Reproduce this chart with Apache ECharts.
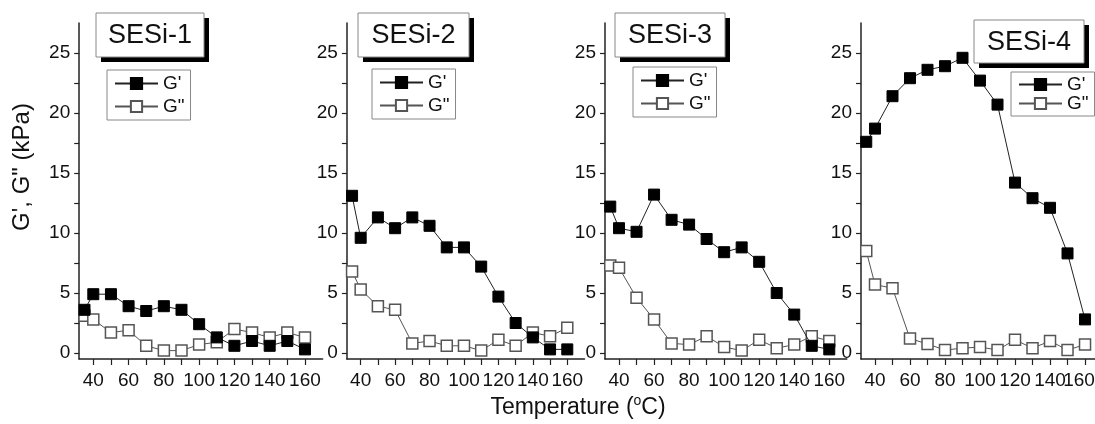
<!DOCTYPE html>
<html>
<head>
<meta charset="utf-8">
<script src="https://cdn.jsdelivr.net/npm/echarts@6/dist/echarts.min.js"></script>
<style>
html,body{margin:0;padding:0;background:#fff;}
#c{width:1095px;height:424px;}
</style>
</head>
<body>
<div id="c"></div>
<script>
// ---- data ----
const temps = [35, 40, 50, 60, 70, 80, 90, 100, 110, 120, 130, 140, 150, 160];
const panelNames = ['SESi-1', 'SESi-2', 'SESi-3', 'SESi-4'];
const seriesNames = ["G'", 'G"'];
const s1G1 = [3.6, 4.9, 4.9, 3.9, 3.5, 3.9, 3.6, 2.4, 1.3, 0.6, 1.0, 0.6, 1.0, 0.3];
const s1G2 = [3.1, 2.8, 1.7, 1.9, 0.6, 0.2, 0.2, 0.7, 0.9, 2.0, 1.7, 1.3, 1.7, 1.3];
const s2G1 = [13.1, 9.6, 11.3, 10.4, 11.3, 10.6, 8.8, 8.8, 7.2, 4.7, 2.5, 1.3, 0.3, 0.3];
const s2G2 = [6.8, 5.3, 3.9, 3.6, 0.8, 1.0, 0.6, 0.6, 0.2, 1.1, 0.6, 1.7, 1.4, 2.1];
const s3G1 = [12.2, 10.4, 10.1, 13.2, 11.1, 10.7, 9.5, 8.4, 8.8, 7.6, 5.0, 3.2, 0.6, 0.3];
const s3G2 = [7.3, 7.1, 4.6, 2.8, 0.8, 0.7, 1.4, 0.5, 0.2, 1.1, 0.4, 0.7, 1.4, 1.0];
const s4G1 = [17.6, 18.7, 21.4, 22.9, 23.6, 23.9, 24.6, 22.7, 20.7, 14.2, 12.9, 12.1, 8.3, 2.8];
const s4G2 = [8.5, 5.7, 5.4, 1.2, 0.75, 0.25, 0.4, 0.5, 0.25, 1.1, 0.4, 1.0, 0.25, 0.7];
const xTickValues = [40, 50, 60, 70, 80, 90, 100, 110, 120, 130, 140, 150, 160];
const xLabelValues = [40, 60, 80, 100, 120, 140, 160];
const yTickValues = [0, 2.5, 5, 7.5, 10, 12.5, 15, 17.5, 20, 22.5, 25];
const yLabelValues = [0, 5, 10, 15, 20, 25];
const xTitle = 'Temperature';
const yTitle = 'G\', G" (kPa)';

const panelData = [[s1G1, s1G2], [s2G1, s2G2], [s3G1, s3G2], [s4G1, s4G2]];

// ---- layout ----
const FONT = '"Liberation Sans", Arial, sans-serif';
const gridBoxes = [
  {left: 79.2, width: 243.4, xmax: 170},
  {left: 346.9, width: 237.6, xmax: 170},
  {left: 605, width: 241.8, xmax: 170},
  {left: 861, width: 234, xmax: 165.7}
];
const titleBoxes = [
  {x: 96, y: 13, w: 108, h: 44},
  {x: 358, y: 13, w: 111, h: 44},
  {x: 615, y: 13, w: 110, h: 44},
  {x: 974, y: 20, w: 110, h: 43}
];
const legendBoxes = [
  {left: 107, top: 70, gap: 4, pad: [4, 6, 4, 7]},
  {left: 372, top: 69, gap: 4, pad: [4, 6, 4, 7]},
  {left: 633, top: 67, gap: 4, pad: [4, 6, 4, 7]},
  {left: 1011, top: 72, gap: 0, pad: [3, 6, 3, 7]}
];

const grids = [], xAxes = [], yAxes = [], series = [], legends = [], graphics = [];
gridBoxes.forEach((g, i) => {
  grids.push({left: g.left, width: g.width, top: 23, height: 336, containLabel: false, outerBoundsMode: 'none'});
  // last panel runs off the canvas edge: its last label is drawn by a helper axis (below)
  const labels = i === 3 ? xLabelValues.slice(0, -1) : xLabelValues;
  xAxes.push({
    type: 'value', gridIndex: i, min: 32, max: g.xmax, position: 'bottom',
    axisLine: {show: true, onZero: false, lineStyle: {color: '#222', width: 1.5}},
    axisTick: {show: true, length: 6, customValues: xTickValues, lineStyle: {color: '#222', width: 1.2}},
    axisLabel: {customValues: labels, fontSize: 19, color: '#111', margin: 12, fontFamily: FONT},
    splitLine: {show: false}
  });
  yAxes.push({
    type: 'value', gridIndex: i, min: -0.5, max: 27.5,
    axisLine: {show: true, lineStyle: {color: '#222', width: 1.5}},
    axisTick: {show: true, length: 5, customValues: yTickValues, lineStyle: {color: '#222', width: 1.2}},
    axisLabel: {customValues: yLabelValues, fontSize: 19, color: '#111', margin: 9, fontFamily: FONT},
    splitLine: {show: false}
  });
  const [a, b] = panelData[i];
  series.push({
    name: seriesNames[0], type: 'line', xAxisIndex: i, yAxisIndex: i,
    data: temps.map((t, j) => [t, a[j]]),
    symbol: 'rect', symbolSize: 11, z: 3,
    lineStyle: {color: '#222', width: 1},
    itemStyle: {color: '#000', borderColor: '#000', borderWidth: 1}
  });
  series.push({
    name: seriesNames[1], type: 'line', xAxisIndex: i, yAxisIndex: i,
    data: temps.map((t, j) => [t, b[j]]),
    symbol: 'rect', symbolSize: 11, z: 2,
    lineStyle: {color: '#555', width: 1},
    itemStyle: {color: '#fff', borderColor: '#555', borderWidth: 1.5}
  });
  const lb = legendBoxes[i];
  legends.push({
    data: seriesNames, orient: 'vertical', left: lb.left, top: lb.top,
    padding: lb.pad, itemGap: lb.gap, itemWidth: 43, itemHeight: 14,
    borderColor: '#888', borderWidth: 1, backgroundColor: '#fff',
    selectedMode: false,
    textStyle: {fontSize: 19, color: '#111', fontFamily: FONT, padding: [0, 0, 0, 0]}
  });
  const tb = titleBoxes[i];
  graphics.push({type: 'rect', shape: {x: tb.x + 5, y: tb.y + 5, width: tb.w, height: tb.h}, style: {fill: '#000'}, z: 10});
  graphics.push({type: 'rect', shape: {x: tb.x, y: tb.y, width: tb.w, height: tb.h}, style: {fill: '#fff', stroke: '#888', lineWidth: 1}, z: 11});
  graphics.push({type: 'text', x: tb.x + tb.w / 2, y: tb.y + tb.h / 2 + 1, z: 12,
    style: {text: panelNames[i], fontSize: 27, fontFamily: FONT, fill: '#111', align: 'center', verticalAlign: 'middle'}});
});

// helper axis on the last panel (same scale) carrying only its final label, nudged left to stay on canvas
xAxes.push({
  type: 'value', gridIndex: 3, min: 32, max: gridBoxes[3].xmax, position: 'bottom', offset: 0,
  axisLine: {show: false}, axisTick: {show: false}, splitLine: {show: false},
  axisLabel: {
    customValues: xLabelValues.slice(-1), fontSize: 19, color: '#111', margin: 12, fontFamily: FONT,
    formatter: (v) => '{r|' + v + '}',
    rich: {r: {fontSize: 19, color: '#111', fontFamily: FONT, padding: [0, 12, 0, 0]}}
  }
});

graphics.push({type: 'text', x: 22, y: 167, rotation: Math.PI / 2, z: 12,
  style: {text: yTitle, fontSize: 24, fontFamily: FONT, fill: '#111', align: 'center', verticalAlign: 'middle'}});
graphics.push({type: 'text', x: 578, y: 407, z: 12,
  style: {
    text: '{t|' + xTitle + ' (}{s|o}{t|C)}', align: 'center', verticalAlign: 'middle',
    rich: {
      t: {fontSize: 23, fontFamily: FONT, fill: '#111', verticalAlign: 'bottom'},
      s: {fontSize: 14, fontFamily: FONT, fill: '#111', verticalAlign: 'top', padding: [0, 0, 11, 0]}
    }
  }});

const chart = echarts.init(document.getElementById('c'), null, {renderer: 'canvas'});
chart.setOption({
  animation: false,
  backgroundColor: '#fff',
  grid: grids, xAxis: xAxes, yAxis: yAxes, series: series, legend: legends,
  graphic: graphics
});
</script>
</body>
</html>
